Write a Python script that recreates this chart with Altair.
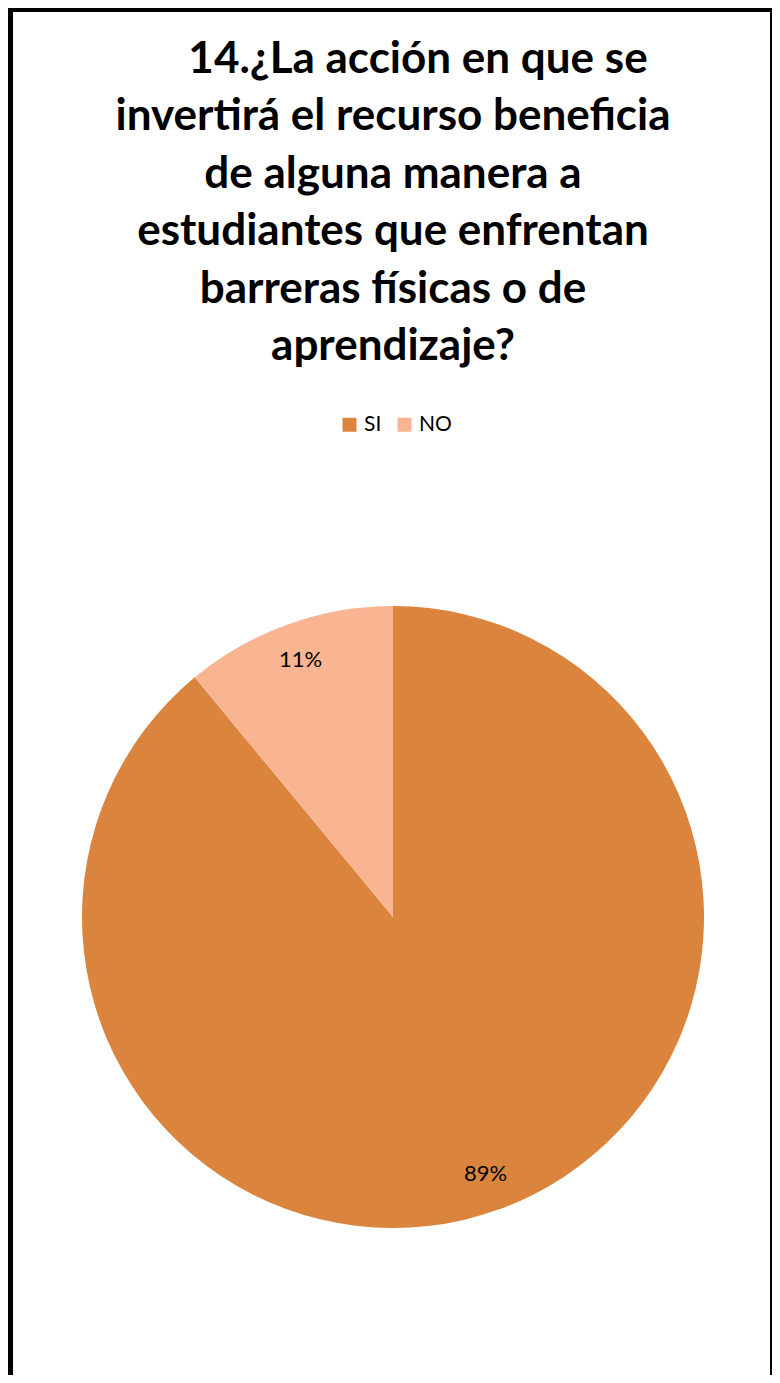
import altair as alt
import pandas as pd

# Data
categories = ["SI", "NO"]
values = [89, 11]
labels = ["89%", "11%"]
colors = ["#DB843D", "#F9B591"]
title_first = ["14.¿La acción en que se"]
title_rest = [
    "invertirá el recurso beneficia",
    "de alguna manera a",
    "estudiantes que enfrentan",
    "barreras físicas o de",
    "aprendizaje?",
]

df = pd.DataFrame({"cat": categories, "value": values, "label": labels,
                   "order": list(range(len(categories)))})

W, H = 764, 1367
CX, CY, R = 385, 909, 311
FONT = "Lato"
TFS = 44
LH = 57.4

color_scale = alt.Scale(domain=categories, range=colors)

base = alt.Chart(df)

pie = base.mark_arc(radius=R).encode(
    theta=alt.Theta("value:Q", stack=True),
    order=alt.Order("order:Q"),
    color=alt.Color(
        "cat:N", scale=color_scale, sort=categories,
        legend=alt.Legend(
            title=None, orient="none", legendX=331, legendY=406,
            direction="horizontal", symbolType="square", symbolSize=196,
            symbolStrokeWidth=0, labelFont=FONT, labelFontSize=21,
            labelColor="#000000", labelOffset=4, columnPadding=12, padding=0,
        ),
    ),
    x=alt.value(CX),
    y=alt.value(CY),
)

pct = base.mark_text(radius=273, font=FONT, fontSize=22, color="#000000").encode(
    theta=alt.Theta("value:Q", stack=True),
    order=alt.Order("order:Q"),
    text="label:N",
    x=alt.value(CX),
    y=alt.value(CY),
)

one = pd.DataFrame({"k": [0]})
title1 = alt.Chart(one).mark_text(
    text=title_first, font=FONT, fontSize=TFS, fontWeight="bold", color="#000000",
    align="center", baseline="alphabetic",
).encode(x=alt.value(410), y=alt.value(65))
title2 = alt.Chart(one).mark_text(
    text=title_rest, font=FONT, fontSize=TFS, fontWeight="bold", color="#000000",
    align="center", baseline="alphabetic", lineHeight=LH,
).encode(x=alt.value(385), y=alt.value(65 + LH))

left_b = alt.Chart(one).mark_rect(color="#000000").encode(
    x=alt.value(0), x2=alt.value(5), y=alt.value(0), y2=alt.value(H))
top_b = alt.Chart(one).mark_rect(color="#000000").encode(
    x=alt.value(0), x2=alt.value(W), y=alt.value(0), y2=alt.value(4))
right_b = alt.Chart(one).mark_rect(color="#000000").encode(
    x=alt.value(W - 2), x2=alt.value(W), y=alt.value(0), y2=alt.value(H))

chart = alt.layer(pie, pct, title1, title2, left_b, top_b, right_b).properties(
    width=W, height=H, autosize=alt.AutoSizeParams(type="none"),
    padding=0, background="#FFFFFF",
).configure_view(stroke=None)

chart.save("out.html", embed_options={"renderer": "svg", "actions": False})
